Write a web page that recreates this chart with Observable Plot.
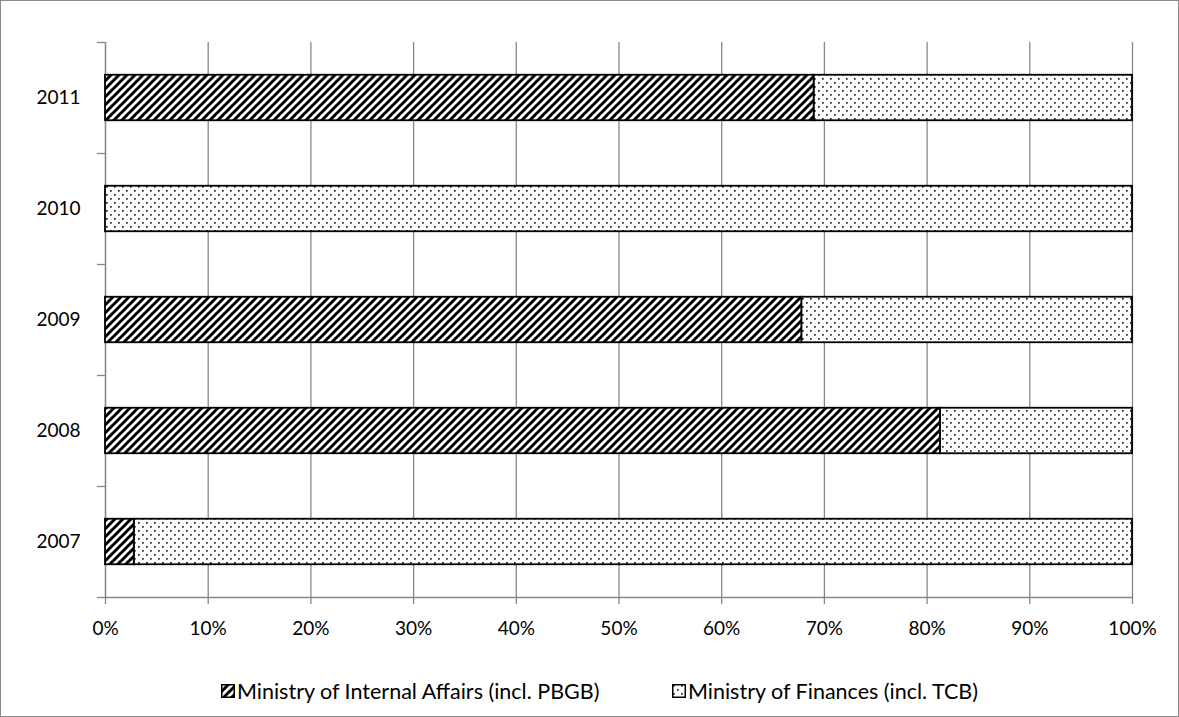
<!DOCTYPE html>
<html>
<head>
<meta charset="utf-8">
<script src="https://cdn.jsdelivr.net/npm/d3@7"></script>
<script src="https://cdn.jsdelivr.net/npm/@observablehq/plot@0.6"></script>
<style>
  body { margin: 0; background: #fff; }
  #frame { position: relative; width: 1177px; height: 715px; border: 1px solid #8a8a8a; background: #fff; font-family: Lato, "Open Sans", sans-serif; }
  #legend { position: absolute; top: 676px; left: 0; width: 1177px; height: 30px; font-size: 21.5px; color: #000; }
  .item { position: absolute; top: 0; display: flex; align-items: center; height: 28px; }
  .item svg { margin-right: 2px; }
</style>
</head>
<body>
<div id="frame">
  <div id="chart"></div>
  <div id="legend"></div>
</div>
<script>
// Data
const years = ["2007", "2008", "2009", "2010", "2011"];
const internalAffairs = [2.8, 81.3, 67.8, 0, 69.0];   // % share, Ministry of Internal Affairs (incl. PBGB)
const finances = [97.2, 18.7, 32.2, 100, 31.0];        // % share, Ministry of Finances (incl. TCB)
const seriesNames = ["Ministry of Internal Affairs (incl. PBGB)", "Ministry of Finances (incl. TCB)"];
const xTicks = [0, 10, 20, 30, 40, 50, 60, 70, 80, 90, 100];

const pad = 0.295; // band padding within each category slot
const rows = [];
years.forEach((yr, i) => {
  rows.push({year: yr, series: seriesNames[0], x1: 0, x2: internalAffairs[i], y1: i + pad, y2: i + 1 - pad});
  rows.push({year: yr, series: seriesNames[1], x1: internalAffairs[i], x2: internalAffairs[i] + finances[i], y1: i + pad, y2: i + 1 - pad});
});
const boundaries = d3.range(0, years.length + 1);
const centers = years.map((_, i) => i + 0.5);

const gray = "#878787";
const chart = Plot.plot({
  width: 1177,
  height: 650,
  marginLeft: 104,
  marginRight: 46,
  marginTop: 41,
  marginBottom: 54,
  style: {fontFamily: "Lato, 'Open Sans', sans-serif", fontSize: "19px", color: "#000", background: "#fff"},
  x: {domain: [0, 100]},
  y: {domain: [0, years.length]},
  marks: [
    Plot.gridX(xTicks, {stroke: gray, strokeOpacity: 1, strokeWidth: 1.3}),
    Plot.axisX(xTicks, {tickFormat: d => d + "%", tickSize: 7, tickPadding: 17, stroke: gray, strokeWidth: 1.3, fontSize: 19, label: null}),
    Plot.ruleY([0], {stroke: gray, strokeWidth: 1.3}),
    Plot.ruleX([0], {stroke: gray, strokeWidth: 1.3}),
    Plot.axisY(boundaries, {tickSize: 8, text: null, stroke: gray, strokeWidth: 1.3, label: null}),
    Plot.axisY(centers, {tickSize: 0, tickPadding: 25, tickFormat: d => years[Math.floor(d)], fontSize: 19, label: null}),
    Plot.rectX(rows.filter(d => d.series === seriesNames[1] && d.x2 > d.x1), {x1: "x1", x2: "x2", y1: "y1", y2: "y2", fill: "url(#dots)", stroke: "#000", strokeWidth: 1.8}),
    Plot.rectX(rows.filter(d => d.series === seriesNames[0] && d.x2 > d.x1), {x1: "x1", x2: "x2", y1: "y1", y2: "y2", fill: "url(#hatch)", stroke: "#000", strokeWidth: 1.8})
  ]
});

const defs = `
<pattern id="hatch" width="8" height="8" patternUnits="userSpaceOnUse">
  <rect width="8" height="8" fill="#fff"/>
  <path d="M-2,2 L2,-2 M0,8 L8,0 M6,10 L10,6" stroke="#000" stroke-width="3"/>
</pattern>
<pattern id="dots" width="8" height="8" patternUnits="userSpaceOnUse">
  <rect width="8" height="8" fill="#fff"/>
  <rect x="1" y="1" width="1.7" height="1.7" fill="#222"/>
  <rect x="5" y="5" width="1.7" height="1.7" fill="#222"/>
</pattern>`;
d3.select(chart).insert("defs", ":first-child").html(defs);
document.getElementById("chart").appendChild(chart);

// Legend
const legend = d3.select("#legend");
const lefts = [220, 671];
const fills = ["url(#hatch)", "url(#dots)"];
seriesNames.forEach((name, i) => {
  const item = legend.append("div").attr("class", "item").style("left", lefts[i] + "px");
  const sw = item.append("svg").attr("width", 14).attr("height", 14);
  sw.append("rect").attr("x", 0.75).attr("y", 0.75).attr("width", 12.5).attr("height", 12.5)
    .attr("fill", fills[i]).attr("stroke", "#000").attr("stroke-width", 1.5);
  item.append("span").text(name);
});
</script>
</body>
</html>
